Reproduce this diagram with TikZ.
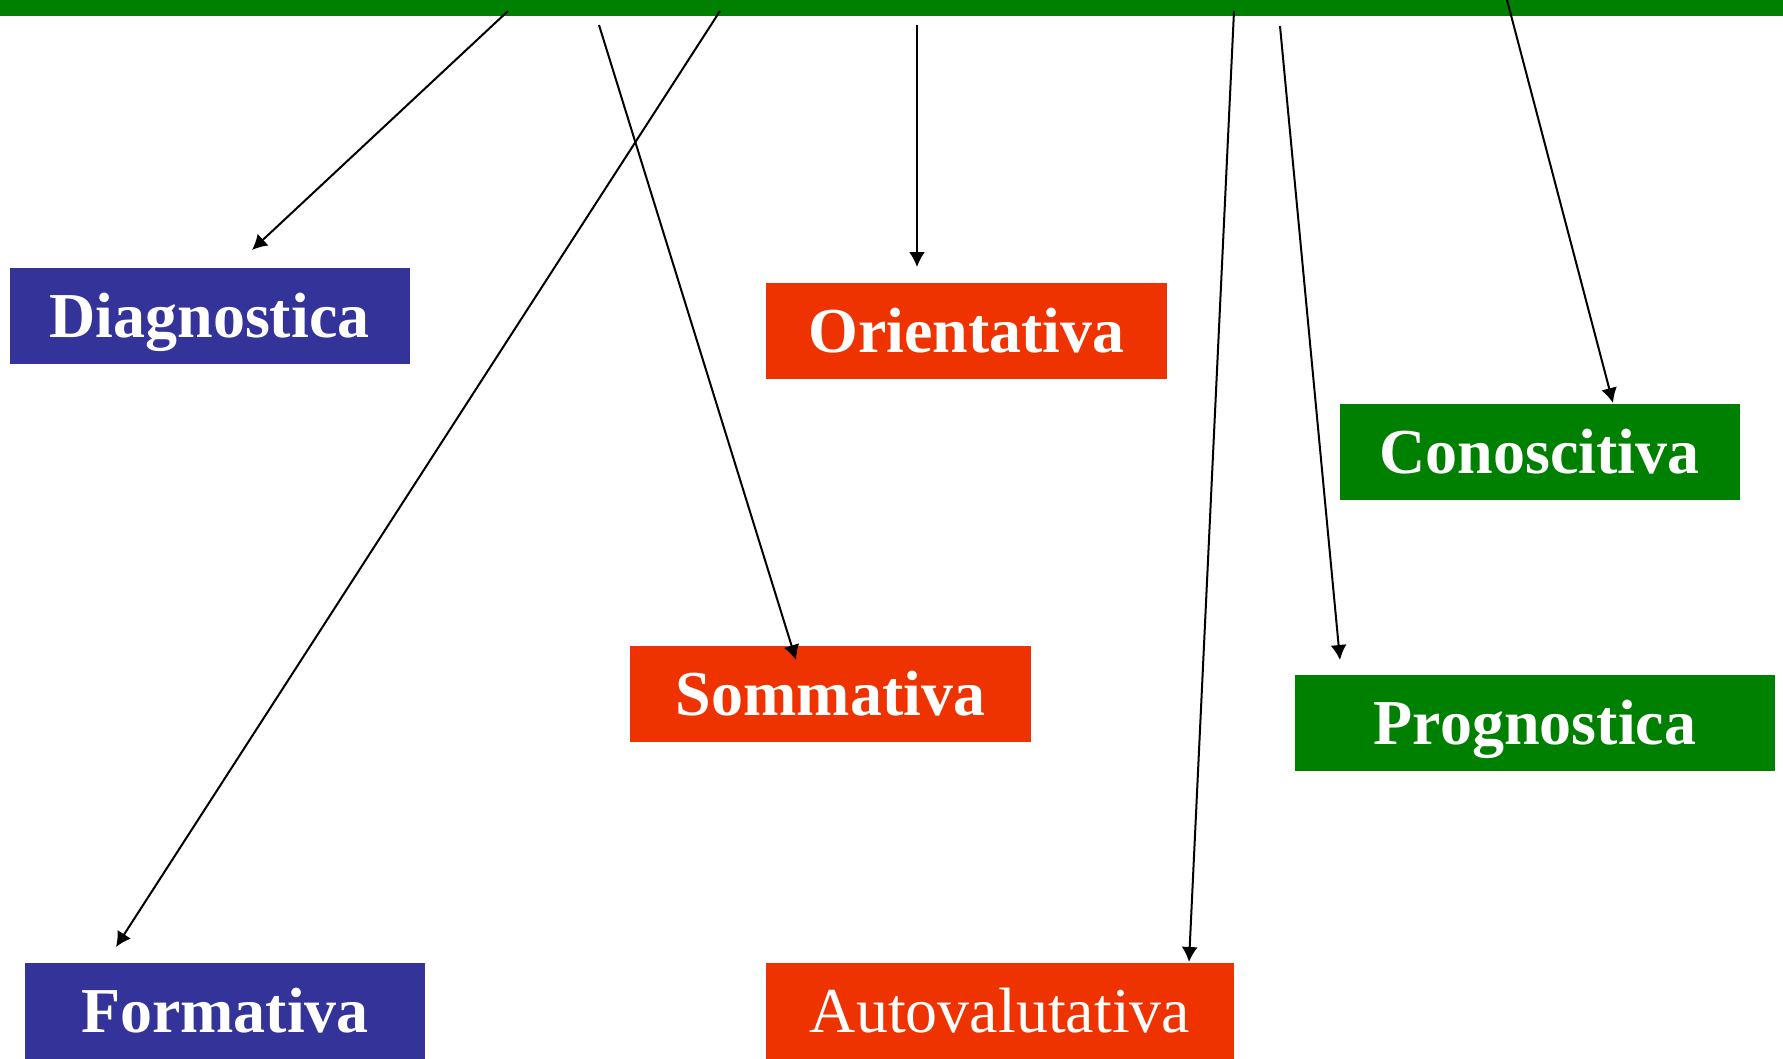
\documentclass[tikz,border=0pt]{standalone}
\usepackage{fontspec}
\setmainfont{Liberation Serif}
\usepackage{tikz}
\usetikzlibrary{positioning,arrows.meta}

\definecolor{verde}{RGB}{0,128,0}
\definecolor{blu}{RGB}{51,51,153}
\definecolor{rosso}{RGB}{238,51,0}

\tikzset{
	box/.style={inner sep=0pt, text=white, minimum height=96pt, text height=43pt, text depth=0pt, font=\fontsize{64}{70}\selectfont\bfseries},
	freccia/.style={->, line width=2pt},
}

\begin{document}
\begin{tikzpicture}[x=1pt, y=-1pt, >={Latex[length=15pt,width=16pt]}]
			\useasboundingbox (0, 0) rectangle (1783, 1058);
			\node (bar) [fill=verde, inner sep=0pt, minimum width=1783pt, minimum height=16pt] at (891.5, 8) {};
			
			\node (diag) [box, fill=blu, minimum width=400pt] at (209.5, 316) {Diagnostica};
			\node (orient) [box, fill=rosso, minimum width=401pt] at (966.5, 330.5) {Orientativa};
			\node (conosc) [box, fill=verde, minimum width=400pt] at (1539.5, 451.5) {Conoscitiva};
			\node (somm) [box, fill=rosso, minimum width=401pt] at (830.5, 694) {Sommativa};
			\node (progn) [box, fill=verde, minimum width=480pt] at (1535, 723) {Prognostica};
			\node (form) [box, fill=blu, minimum width=400pt] at (225, 1011) {Formativa};
			\node (auto) [box, fill=rosso, minimum width=468pt, font=\fontsize{64}{70}\selectfont] at (1000, 1011) {Autovalutativa};
			
			% punti di partenza sulla barra
			\coordinate (d0) at (508, 11);
			\coordinate (s0) at (599, 25);
			\coordinate (f0) at (720, 11);
			\coordinate (o0) at (917, 25);
			\coordinate (a0) at (1234, 11);
			\coordinate (p0) at (1280, 26);
			\coordinate (c0) at (1507, 0);
			
			% punte delle frecce
			\coordinate (d1) at (252, 250);
			\coordinate (s1) at (796, 660);
			\coordinate (f1) at (116, 947);
			\coordinate (o1) at (917, 267);
			\coordinate (a1) at (1189, 962);
			\coordinate (p1) at (1340, 660);
			\coordinate (c1) at (1613, 403);
			
			\draw[freccia] (d0) -- (d1);
			\draw[freccia] (s0) -- (s1);
			\draw[freccia] (f0) -- (f1);
			\draw[freccia] (o0) -- (o1);
			\draw[freccia] (a0) -- (a1);
			\draw[freccia] (p0) -- (p1);
			\draw[freccia] (c0) -- (c1);
		\end{tikzpicture}
\end{document}
